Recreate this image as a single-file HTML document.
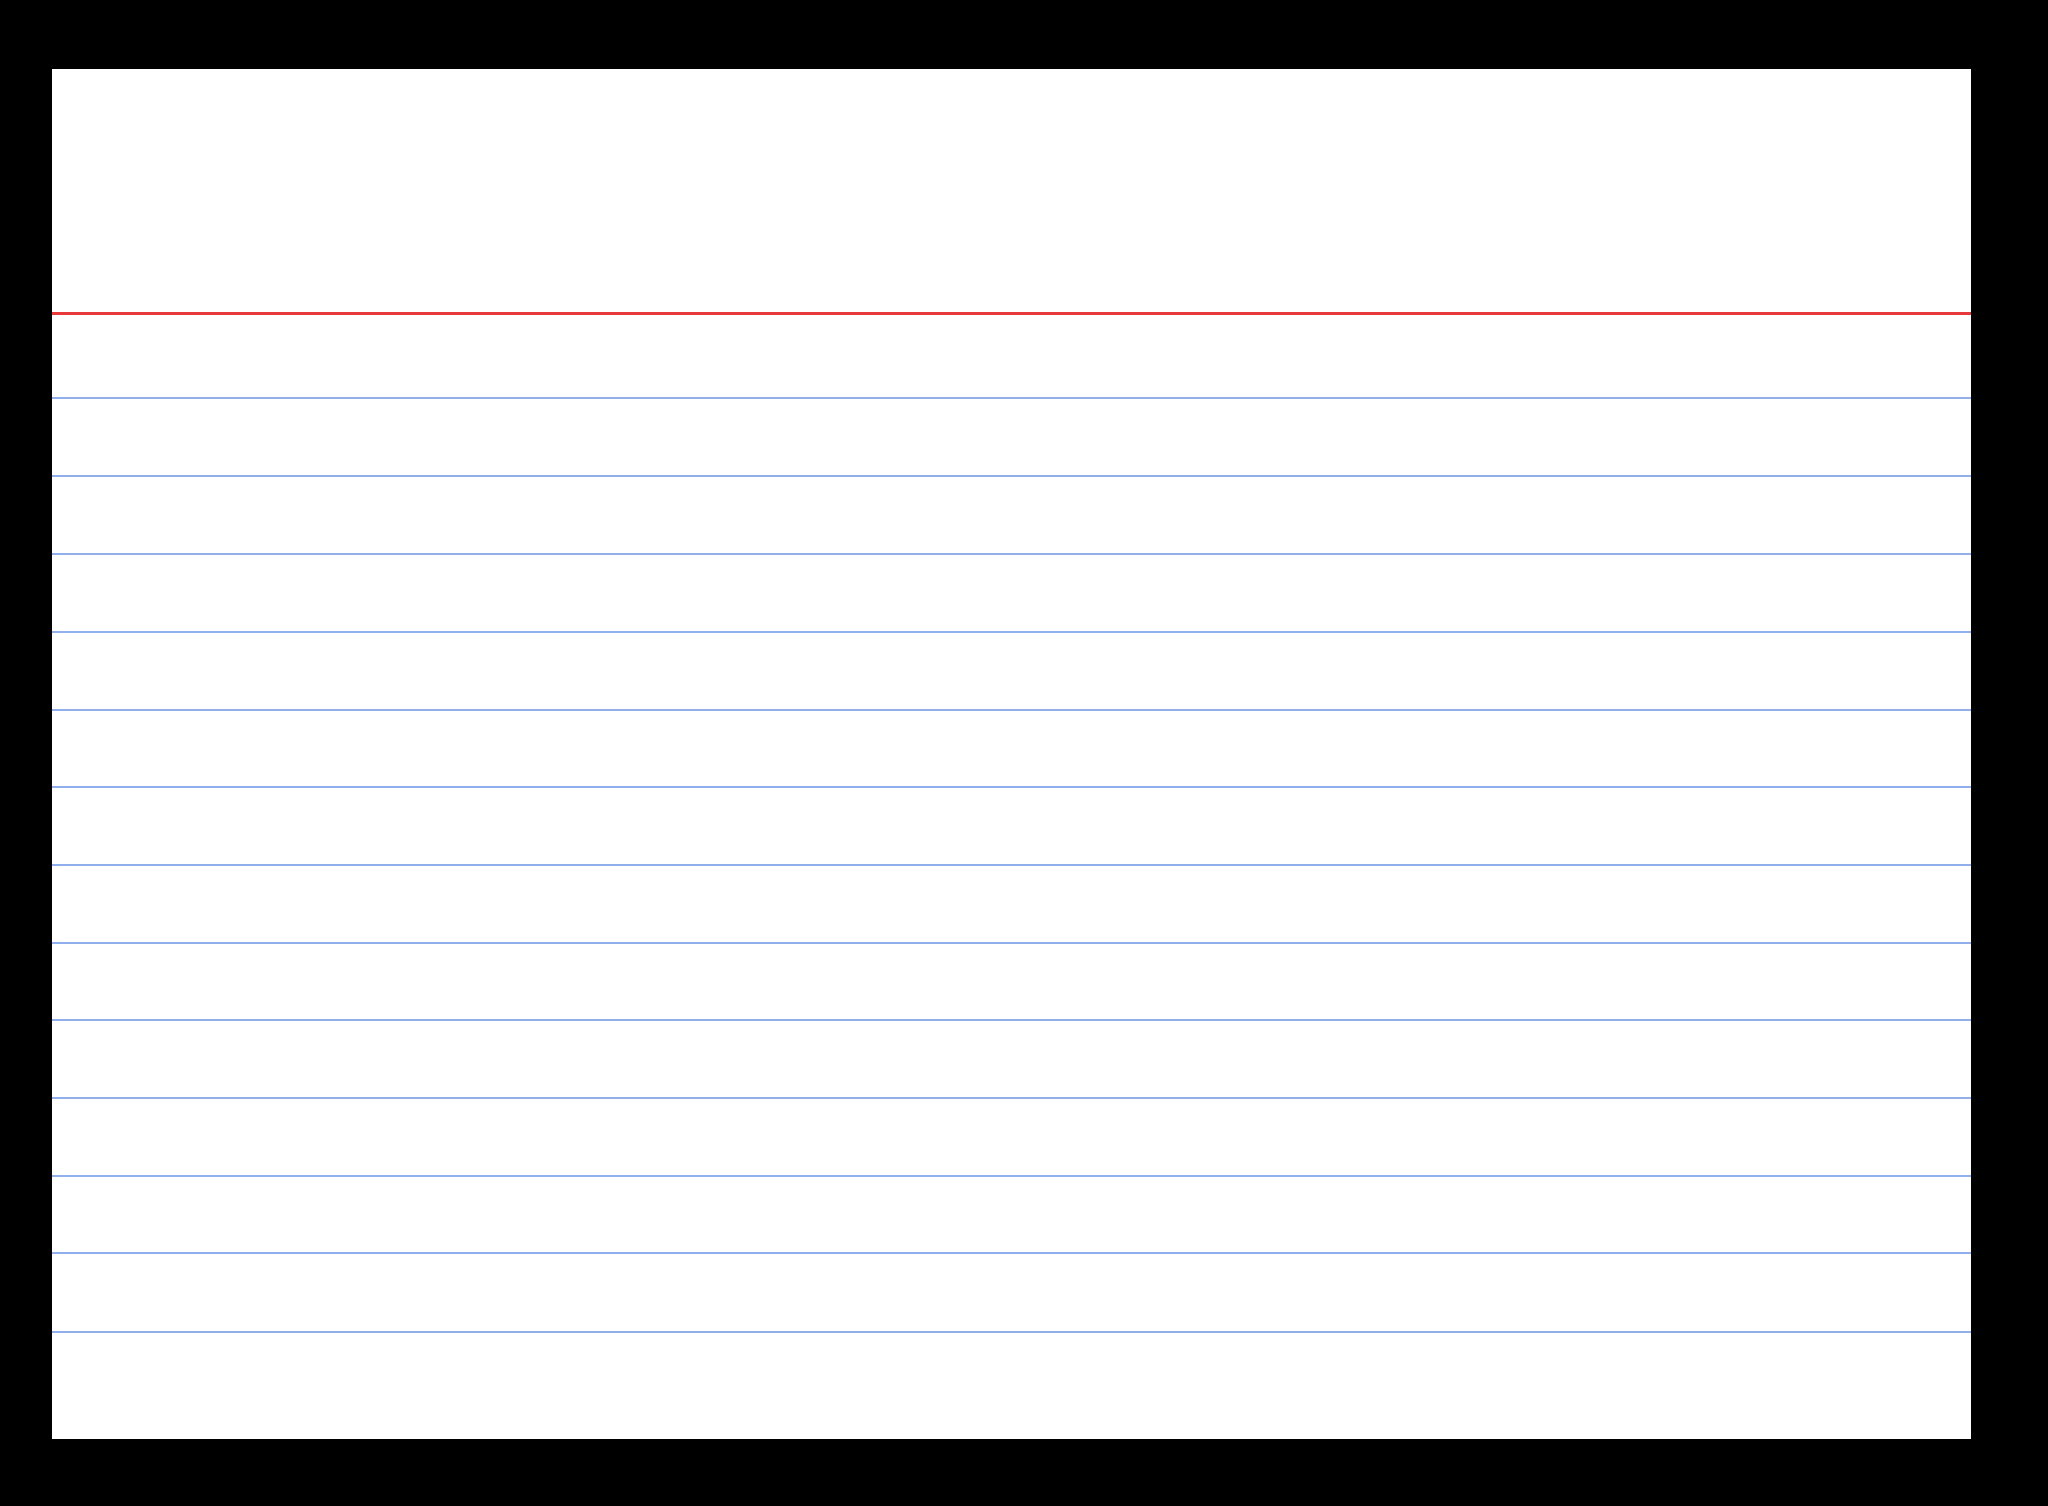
<!DOCTYPE html>
<html><head><meta charset="utf-8"><style>
html,body{margin:0;padding:0;background:#000;}
body{width:2048px;height:1506px;position:relative;overflow:hidden;}
.card{position:absolute;left:52px;top:69px;width:1919px;height:1370px;background:#fff;}
.l{position:absolute;left:52px;width:1919px;height:2px;background:#8fb0ec;}
.r{position:absolute;left:52px;width:1919px;height:3px;background:#e8393a;top:312px;}
</style></head><body>
<div class="card"></div>
<div class="r"></div>
<div class="l" style="top:397px"></div>
<div class="l" style="top:475px"></div>
<div class="l" style="top:553px"></div>
<div class="l" style="top:631px"></div>
<div class="l" style="top:709px"></div>
<div class="l" style="top:786px"></div>
<div class="l" style="top:864px"></div>
<div class="l" style="top:942px"></div>
<div class="l" style="top:1019px"></div>
<div class="l" style="top:1097px"></div>
<div class="l" style="top:1175px"></div>
<div class="l" style="top:1252px"></div>
<div class="l" style="top:1331px"></div>
</body></html>
